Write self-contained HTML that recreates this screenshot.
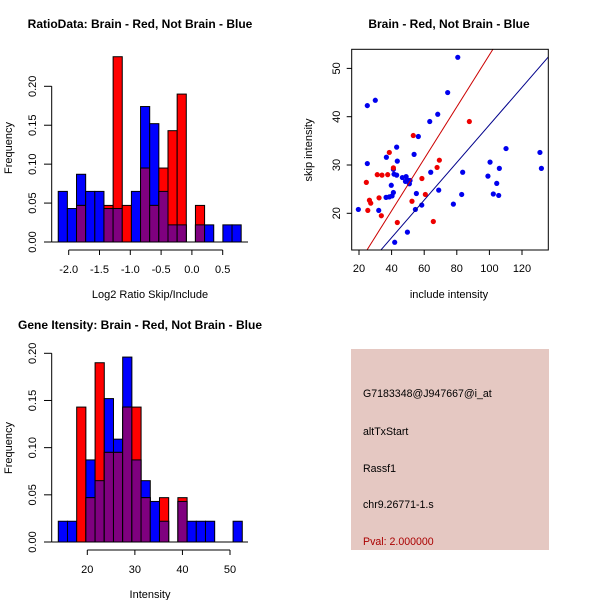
<!DOCTYPE html>
<html><head><meta charset="utf-8"><style>
body{margin:0;background:#fff;width:600px;height:600px;overflow:hidden}
svg text{font-family:"Liberation Sans",sans-serif;fill:#000}
</style></head><body>
<svg id="s" width="600" height="600" xmlns="http://www.w3.org/2000/svg">
<g id="p1"></g>
<g id="p2"></g>
<g id="p3"></g>
<g>
<rect x="351" y="349" width="198" height="201" fill="#e5c8c2"/>
<text x="363" y="397" font-size="10.6">G7183348@J947667@i_at</text>
<text x="363" y="435" font-size="10.6">altTxStart</text>
<text x="363" y="472" font-size="10.6">Rassf1</text>
<text x="363" y="508" font-size="10.6">chr9.26771-1.s</text>
<text x="363" y="545" font-size="10.6" style="fill:#aa0000">Pval: 2.000000</text>
</g>
</svg>
<script>
// Ratio histogram data
const ratioBreakStart = -2.17, ratioBinWidth = 0.1485;
const ratioBlue = [0.065,0.043,0.087,0.065,0.065,0.043,0.043,0,0.065,0.174,0.152,0.065,0.022,0.022,0,0.022,0.022,0,0.022,0.022];
const ratioRed  = [0,0,0.047,0,0,0.047,0.238,0.047,0,0.095,0.047,0.095,0.143,0.190,0,0.047,0,0,0,0];
const ratioXTicks = [-2.0,-1.5,-1.0,-0.5,0.0,0.5];
const ratioYTicks = [0,0.05,0.10,0.15,0.20];
// Intensity histogram data
const intBreakStart = 13.9, intBinWidth = 1.934;
const intBlue = [0.022,0.022,0,0.087,0.065,0.152,0.109,0.196,0.087,0.065,0.043,0.022,0,0.043,0.022,0.022,0.022,0,0,0.022];
const intRed  = [0,0,0.143,0.047,0.190,0.095,0.095,0.143,0.143,0.047,0,0.047,0,0.047,0,0,0,0,0,0];
const intXTicks = [20,30,40,50];
const intYTicks = [0,0.05,0.10,0.15,0.20];
// Scatter data
const blueX = [19.6,25.1,30,25.1,32.1,36.8,43.1,43.5,36.6,38.6,40.3,41.1,39.8,41.1,41.5,43.1,46.6,48.9,49.7,48.5,51.3,50.9,53.8,56.4,55.2,54.6,49.7,41.9,58.5,63.4,64,68.3,68.9,74.4,80.6,77.9,83,83.6,99.1,100.4,102.4,104.5,105.7,106.1,110.2,131,131.9];
const blueY = [20.8,42.3,43.4,30.3,20.6,31.6,33.7,30.8,23.3,23.4,23.6,24.3,25.8,29.1,28.1,27.9,27.4,27.6,26.9,26.6,26.8,26.1,32.2,35.9,24.1,20.8,16.1,14.0,21.7,39.0,28.5,40.5,24.8,45.0,52.3,21.9,23.9,28.5,27.7,30.6,24.0,26.2,23.7,29.3,33.4,32.6,29.3];
const redX = [24.5,25.4,26.4,27.2,33.7,31.2,34.1,37.6,38.6,32.3,41.1,43.5,53.3,52.5,58.6,60.7,65.6,67.9,69.3,87.7];
const redY = [26.4,20.6,22.7,22.1,19.5,28.0,27.9,28.0,32.6,23.2,29.4,18.1,36.1,22.5,27.2,23.9,18.3,29.5,31.0,39.0];
const redFit = [-1.0,0.538];
const blueFit = [-0.6,0.389];
const scXTicks = [20,40,60,80,100,120];
const scYTicks = [20,30,40,50];

const NS="http://www.w3.org/2000/svg";
function mk(parent,tag,attrs,txt){const e=document.createElementNS(NS,tag);for(const k in attrs)e.setAttribute(k,attrs[k]);if(txt!==undefined)e.textContent=txt;parent.appendChild(e);return e;}

function hist(g,o){
  const xs=v=>o.x0+(v-o.xv0)*o.xk, ys=v=>o.y0-v*o.yk;
  mk(g,'text',{x:o.titleX,y:o.titleY,'font-size':12,'font-weight':'bold','text-anchor':'middle'},o.title);
  for(let i=0;i<o.blue.length;i++){
    const a=xs(o.bs+i*o.bw), b=xs(o.bs+(i+1)*o.bw);
    const bl=o.blue[i], rd=o.red[i], mn=Math.min(bl,rd);
    if(bl>0){const r=mk(g,'rect',{x:a,y:ys(bl),width:b-a,height:bl*o.yk,fill:'#0000ff',stroke:'#000','stroke-width':1});
      
      }
    if(rd>0){const r=mk(g,'rect',{x:a,y:ys(rd),width:b-a,height:rd*o.yk,fill:'#ff0000',stroke:'#000','stroke-width':1});
      
      }
    if(mn>0){const r=mk(g,'rect',{x:a,y:ys(mn),width:b-a,height:mn*o.yk,fill:'#7f007f',stroke:'#000','stroke-width':1});
      
      }
  }
  mk(g,'line',{x1:51.7,x2:248,y1:o.y0,y2:o.y0,stroke:'#000'});
  const yt=o.yt;
  mk(g,'line',{x1:51.7,x2:51.7,y1:ys(yt[0]),y2:ys(yt[yt.length-1]),stroke:'#000'});
  yt.forEach(v=>{mk(g,'line',{x1:44,x2:51.7,y1:ys(v),y2:ys(v),stroke:'#000'});
    const t=mk(g,'text',{x:36,y:ys(v),'font-size':11,'text-anchor':'middle',transform:`rotate(-90 36 ${ys(v)})`},v.toFixed(2));
    });
  const xt=o.xt;
  mk(g,'line',{x1:xs(xt[0]),x2:xs(xt[xt.length-1]),y1:o.y0+8,y2:o.y0+8,stroke:'#000'});
  xt.forEach(v=>{mk(g,'line',{x1:xs(v),x2:xs(v),y1:o.y0+8,y2:o.y0+13,stroke:'#000'});
    const t=mk(g,'text',{x:xs(v),y:o.y0+31,'font-size':11,'text-anchor':'middle'},o.fmt(v));
    });
  mk(g,'text',{x:150,y:o.y0+56,'font-size':11,'text-anchor':'middle'},o.xlab);
  const fy=o.y0-94;
  mk(g,'text',{x:12,y:fy,'font-size':11,'text-anchor':'middle',transform:`rotate(-90 12 ${fy})`},'Frequency');
}
hist(document.getElementById('p1'),{x0:68.7,xv0:-2,xk:61.6,y0:242,yk:778.5,bs:ratioBreakStart,bw:ratioBinWidth,blue:ratioBlue,red:ratioRed,xt:ratioXTicks,yt:ratioYTicks,fmt:v=>v.toFixed(1),title:'RatioData: Brain - Red, Not Brain - Blue',titleX:140,titleY:28,xlab:'Log2 Ratio Skip/Include'});
hist(document.getElementById('p3'),{x0:87.3,xv0:20,xk:4.757,y0:542,yk:943.5,bs:intBreakStart,bw:intBinWidth,blue:intBlue,red:intRed,xt:intXTicks,yt:intYTicks,fmt:v=>String(v),title:'Gene Itensity: Brain - Red, Not Brain - Blue',titleX:140,titleY:329,xlab:'Intensity'});

(function(){
  const g=document.getElementById('p2');
  const L=351.7,R=548.3,T=49.3,B=250;
  const xs=v=>359+(v-20)*1.63, ys=v=>213.3-(v-20)*4.83;
  mk(g,'text',{x:449,y:28,'font-size':12,'font-weight':'bold','text-anchor':'middle'},'Brain - Red, Not Brain - Blue');
  const cp=mk(g,'clipPath',{id:'clipsc'});mk(cp,'rect',{x:L,y:T,width:R-L,height:B-T});
  const inner=mk(g,'g',{'clip-path':'url(#clipsc)'});
  blueX.forEach((x,i)=>{const c=mk(inner,'circle',{cx:xs(x),cy:ys(blueY[i]),r:2.6,fill:'#0000ee'});
    
    });
  redX.forEach((x,i)=>{const c=mk(inner,'circle',{cx:xs(x),cy:ys(redY[i]),r:2.6,fill:'#ee0000'});
    
    });
  [[redFit,'#cc0000','fit-line-red'],[blueFit,'#00008b','fit-line-blue']].forEach(([f,col,nm])=>{
    const l=mk(inner,'line',{x1:xs(0),y1:ys(f[0]),x2:xs(200),y2:ys(f[0]+f[1]*200),stroke:col,'stroke-width':1});
    
    });
  mk(g,'rect',{x:L,y:T,width:R-L,height:B-T,fill:'none',stroke:'#000'});
  scXTicks.forEach(v=>{mk(g,'line',{x1:xs(v),x2:xs(v),y1:B,y2:B+5,stroke:'#000'});
    mk(g,'text',{x:xs(v),y:B+22,'font-size':11,'text-anchor':'middle'},String(v));});
  scYTicks.forEach(v=>{mk(g,'line',{x1:L-5,x2:L,y1:ys(v),y2:ys(v),stroke:'#000'});
    mk(g,'text',{x:340,y:ys(v),'font-size':11,'text-anchor':'middle',transform:`rotate(-90 340 ${ys(v)})`},String(v));});
  mk(g,'text',{x:449,y:298,'font-size':11,'text-anchor':'middle'},'include intensity');
  mk(g,'text',{x:312,y:150,'font-size':11,'text-anchor':'middle',transform:'rotate(-90 312 150)'},'skip intensity');
})();
</script>
</body></html>
